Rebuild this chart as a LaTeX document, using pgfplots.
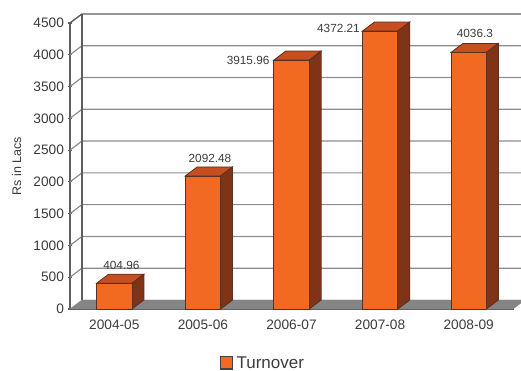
\documentclass[border=0pt]{standalone}
\usepackage{fontspec}
\setmainfont{Liberation Sans}
\usepackage{pgfplots}
\pgfplotsset{compat=1.18}

\definecolor{barfront}{HTML}{F26A21}
\definecolor{bartop}{HTML}{C64E1F}
\definecolor{barside}{HTML}{7F3417}
\definecolor{baredge}{HTML}{5A3020}
\definecolor{floorgray}{HTML}{858585}
\definecolor{gridgray}{HTML}{8C8C8C}
\definecolor{axisgray}{HTML}{5E5E5E}
\definecolor{labelgray}{HTML}{3C3C3C}

% one 3D bar: #1 left edge, #2 right edge, #3 value (depth is 0.135 in x, 142 in y)
\newcommand{\threedbar}[3]{%
  \addplot[forget plot, draw=baredge, line width=0.8pt, fill=bartop]
    coordinates {(#1,#3) (#2,#3) (#2+0.135,#3+142) (#1+0.135,#3+142)} -- cycle;
  \addplot[forget plot, draw=baredge, line width=0.8pt, fill=barside]
    coordinates {(#2,0) (#2,#3) (#2+0.135,#3+142) (#2+0.135,142)} -- cycle;
  \addplot[forget plot, draw=baredge, line width=0.8pt, fill=barfront]
    coordinates {(#1,0) (#1,#3) (#2,#3) (#2,0)} -- cycle;
}
% wall line at one level: from the left axis back, then along the wall
\newcommand{\wallline}[1]{%
  \addplot[forget plot, draw=gridgray, line width=1.2pt]
    coordinates {(0,#1) (0.135,#1+142) (5.09,#1+142)};
}

\begin{document}
\begin{tikzpicture}
\useasboundingbox (-70pt,-62pt) rectangle (451pt,309pt);
\begin{axis}[
	scale only axis,
	width=443pt, height=286pt,
	xmin=0, xmax=5,
	ymin=0, ymax=4500,
	clip=false,
	axis lines=left,
	axis line style={-, draw=axisgray, line width=1.2pt},
	xtick={0.5,1.5,2.5,3.5,4.5},
	xticklabels={2004-05,2005-06,2006-07,2007-08,2008-09},
	extra x ticks={1,2,3,4,5},
	extra x tick labels={},
	extra x tick style={major tick length=3pt, x tick style={draw=axisgray, line width=1pt}},
	ytick={0,500,...,4500},
	major tick length=5pt,
	y tick style={draw=axisgray, line width=1.2pt},
	x tick style={draw=none},
	/pgf/number format/assume math mode=true,
	/pgf/number format/1000 sep={},
	tick label style={font=\fontsize{13.7}{15}\selectfont, text=labelgray},
	xticklabel style={yshift=-5pt},
	ylabel={Rs in Lacs},
	ylabel style={font=\fontsize{12.5}{14}\selectfont, text=labelgray, at={(axis description cs:-0.102,0.5)}, anchor=south},
]
% floor
\addplot[forget plot, draw=floorgray, fill=floorgray]
	coordinates {(0,0) (5,0) (5.09,95) (5.09,142) (0.135,142)} -- cycle;
% wall lines
\wallline{500}
\wallline{1000}
\wallline{1500}
\wallline{2000}
\wallline{2500}
\wallline{3000}
\wallline{3500}
\wallline{4000}
\addplot[forget plot, draw=axisgray, line width=1.4pt]
	coordinates {(0,4500) (0.135,4642) (5.09,4642)};
\addplot[forget plot, draw=axisgray, line width=1.2pt]
	coordinates {(0.135,142) (0.135,4642)};

\threedbar{0.30}{0.70}{404.96}
\threedbar{1.30}{1.70}{2092.48}
\threedbar{2.30}{2.70}{3915.96}
\threedbar{3.30}{3.70}{4372.21}
\threedbar{4.30}{4.70}{4036.3}

\tikzset{vlabel/.style={font=\fontsize{11.8}{14}\selectfont, text=labelgray, inner sep=0pt}}
\node[vlabel] at (axis cs:0.58,690) {404.96};
\node[vlabel] at (axis cs:1.58,2370) {2092.48};
\node[vlabel] at (axis cs:2.01,3915) {3915.96};
\node[vlabel] at (axis cs:3.03,4420) {4372.21};
\node[vlabel] at (axis cs:4.57,4335) {4036.3};

% hand-set legend, swatch 14px with the label beside it
\draw[draw=axisgray!70!black, line width=1.2pt, fill=barfront]
	(axis description cs:0.3405,-0.1655) rectangle (axis description cs:0.3675,-0.2095);
\node[font=\fontsize{17}{17}\selectfont, text=labelgray, inner sep=0pt, anchor=base west]
	at (axis description cs:0.3755,-0.2095) {Turnover};
\end{axis}
\end{tikzpicture}
\end{document}
